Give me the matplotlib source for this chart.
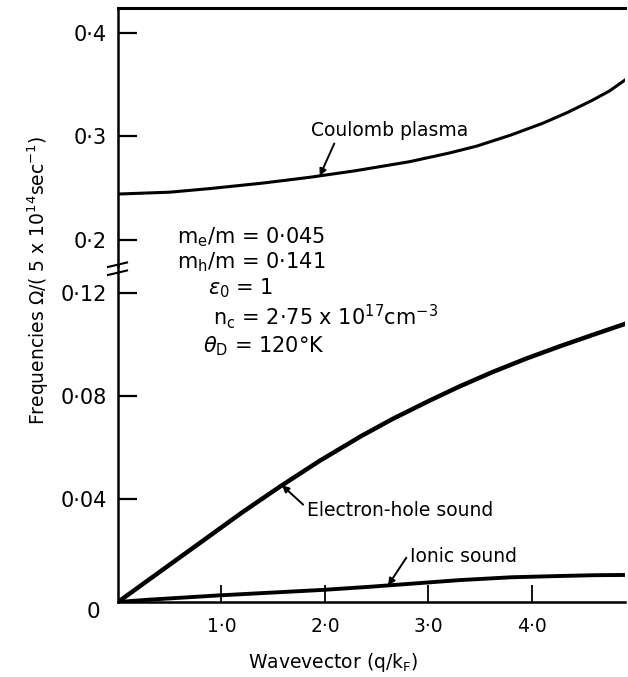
import numpy as np
import matplotlib
matplotlib.use('Agg')
import matplotlib.pyplot as plt
import matplotlib.transforms as mtrans

# frequencies / (5e14 s^-1) against wavevector q/kF
q_coul = [0.0, 0.5, 0.89, 1.4, 1.855, 2.3, 2.82, 3.2, 3.47, 3.8, 4.11, 4.35, 4.59, 4.75, 4.9]
coulomb = [0.2444, 0.2462, 0.2497, 0.2550, 0.2606, 0.2670, 0.2757, 0.2840, 0.2908, 0.3015,
           0.3130, 0.3235, 0.3353, 0.3440, 0.3546]

q_eh = [0.0, 0.5, 0.89, 1.2, 1.565, 1.94, 2.34, 2.65, 2.99, 3.3, 3.62, 3.95, 4.27, 4.6, 4.9]
eh_sound = [0.0, 0.0145, 0.0258, 0.0348, 0.0448, 0.0546, 0.0642, 0.0710, 0.0778, 0.0837,
            0.0893, 0.0946, 0.0993, 0.1039, 0.1080]

q_ion = [0.0, 0.3, 0.99, 1.98, 2.43, 3.0, 3.3, 3.8, 4.27, 4.6, 4.9]
ionic = [0.0, 0.0009, 0.0026, 0.0047, 0.0059, 0.0076, 0.0085, 0.0096, 0.0101, 0.0104, 0.0105]

xticks = [1.0, 2.0, 3.0, 4.0]
xticklabels = ['1·0', '2·0', '3·0', '4·0']
yticks_lo = [0.0, 0.04, 0.08, 0.12]
yticklabels_lo = ['', '0·04', '0·08', '0·12']
yticks_hi = [0.2, 0.3, 0.4]
yticklabels_hi = ['0·2', '0·3', '0·4']

plt.rcParams['font.family'] = ['DejaVu Sans']
plt.rcParams['mathtext.fontset'] = 'dejavusans'

fig = plt.figure(figsize=(6.28, 6.77), dpi=100)
W, H = 628., 677.
x0, x1 = 118., 625.
ybot, ybrk, ytop = 602., 266., 8.

axlo = fig.add_axes([x0/W, (H-ybot)/H, (x1-x0)/W, (ybot-ybrk)/H])
axhi = fig.add_axes([x0/W, (H-ybrk)/H, (x1-x0)/W, (ybrk-ytop)/H])

axlo.set_xlim(0, 4.9)
axhi.set_xlim(0, 4.9)
axlo.set_ylim(0, 0.12*(ybot-ybrk)/309.)
axhi.set_ylim(0.2-26/1035., 0.2+232/1035.)

for ax in (axlo, axhi):
    ax.spines['right'].set_visible(False)
    ax.spines['left'].set_linewidth(1.8)
    ax.spines['bottom'].set_linewidth(1.8)
    ax.spines['top'].set_linewidth(2.2)
    ax.tick_params(axis='y', direction='in', length=14, width=1.6, pad=8, labelsize=15)
    ax.patch.set_alpha(0)
axlo.spines['top'].set_visible(False)
axhi.spines['bottom'].set_visible(False)

axlo.set_xticks(xticks)
axlo.set_xticklabels(xticklabels)
axlo.tick_params(axis='x', direction='in', length=12, width=1.3, pad=11, labelsize=13.5)
axhi.set_xticks([])
axlo.set_yticks(yticks_lo)
axlo.set_yticklabels(yticklabels_lo)
axhi.set_yticks(yticks_hi)
axhi.set_yticklabels(yticklabels_hi)

# zero label sits below the corner
tr = mtrans.blended_transform_factory(axlo.transAxes, axlo.transData)
axlo.text(-0.035, 0, '0', transform=tr, ha='right', va='top', fontsize=15.5)

# curves
axhi.plot(q_coul, coulomb, color='black', lw=2.2, solid_joinstyle='round')
axlo.plot(q_eh, eh_sound, color='black', lw=3.2, solid_joinstyle='round')
axlo.plot(q_ion, ionic, color='black', lw=2.8, solid_joinstyle='round')

# break marks on the y axis
for dy in (0., 8.):
    fig.add_artist(plt.Line2D([108/W, 127/W], [(H-267-dy)/H, (H-262.5-dy)/H],
                              color='black', lw=1.5))

ap = dict(arrowstyle='-|>', color='black', lw=1.4, mutation_scale=10, shrinkA=1, shrinkB=0)
xc = 1.95
axhi.annotate('Coulomb plasma', xy=(xc, np.interp(xc, q_coul, coulomb)),
              xytext=((311-x0)/103.5, 0.2+(240-130)/1035.), ha='left', va='center',
              fontsize=13.5, arrowprops=dict(ap, relpos=(0.16, 0.0)))
xe = 1.585
axlo.annotate('Electron-hole sound', xy=(xe, np.interp(xe, q_eh, eh_sound)),
              xytext=((307-x0)/103.5, (ybot-510)*0.12/309.), ha='left', va='center',
              fontsize=13.5, arrowprops=dict(ap, relpos=(0.0, 0.6)))
xi = 2.61
axlo.annotate('Ionic sound', xy=(xi, np.interp(xi, q_ion, ionic)),
              xytext=((410-x0)/103.5, (ybot-557)*0.12/309.), ha='left', va='center',
              fontsize=13.5, arrowprops=dict(ap, relpos=(0.0, 0.75)))

# parameters
params = [(177, 237, r'm$_\mathrm{e}$/m = 0·045'),
          (177, 262, r'm$_\mathrm{h}$/m = 0·141'),
          (208, 288, r'$\epsilon_\mathrm{0}$ = 1'),
          (213, 317, r'n$_\mathrm{c}$ = 2·75 x 10$^{17}$cm$^{-3}$'),
          (203, 346, r'$\theta_\mathrm{D}$ = 120°K')]
for px, py, s in params:
    fig.text(px/W, (H-py)/H, s, ha='left', va='center', fontsize=15)

fig.text(38/W, (H-280)/H, r'Frequencies $\Omega$/( 5 x 10$^{14}$sec$^{-1}$)',
         rotation=90, ha='center', va='center', fontsize=13.5)
fig.text(333/W, (H-662)/H, r'Wavevector (q/k$_\mathrm{F}$)', ha='center', va='center', fontsize=13.5)

fig.savefig('out.png', dpi=100)
